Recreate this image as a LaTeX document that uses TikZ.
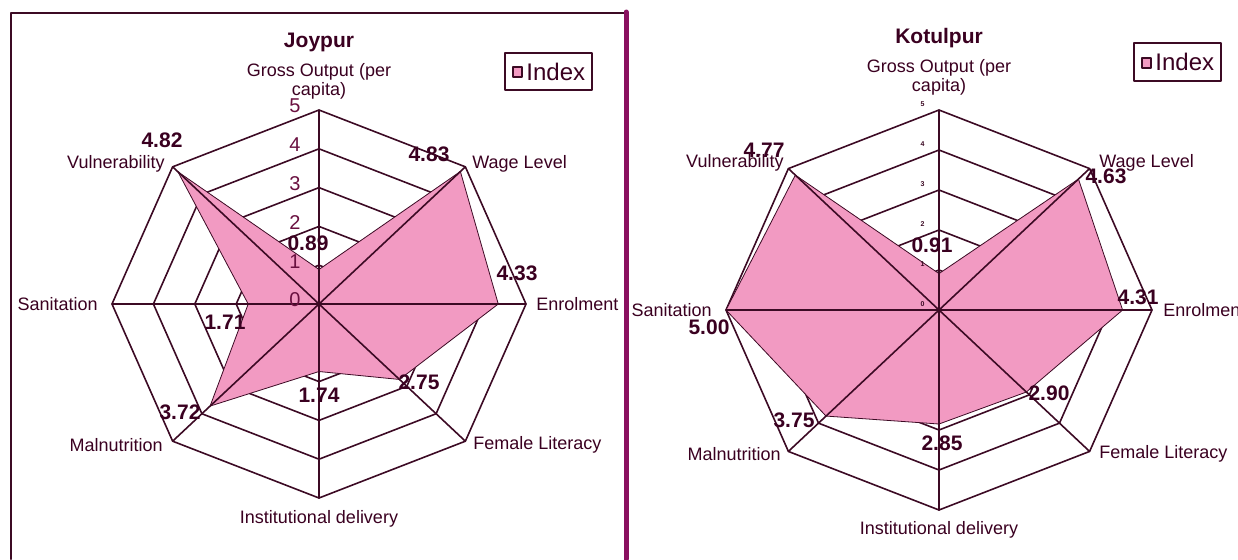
\documentclass[tikz,border=0pt]{standalone}
\usepackage{fontspec}
\setmainfont{Liberation Sans}
\usetikzlibrary{positioning}
\definecolor{gridcol}{HTML}{3C0A24}
\definecolor{pinkfill}{HTML}{F29AC2}
\definecolor{labcol}{HTML}{3A0020}
\definecolor{divcol}{HTML}{8A1060}
\definecolor{tickcol}{HTML}{6A1040}

\begin{document}
\begin{tikzpicture}[x=0.5pt,y=-0.5pt,line cap=round,line join=round,
  gridline/.style={draw=gridcol,line width=0.8pt},
  areafill/.style={fill=pinkfill,draw=gridcol,line width=0.4pt},
  axislab/.style={text=labcol,font=\fontsize{9}{9.5}\selectfont,inner sep=0pt},
  vallab/.style={text=labcol,font=\fontsize{10.5}{11}\selectfont\bfseries,inner sep=0pt},
  ticklab/.style={text=tickcol,font=\fontsize{10}{10}\selectfont,inner sep=0pt,anchor=east,xshift=-9pt,yshift=2pt},
  tinytick/.style={text=gridcol,font=\fontsize{3.5}{4}\selectfont\bfseries,inner sep=0pt,anchor=east,xshift=-7pt,yshift=3pt},
  legbox/.style={draw=gridcol,line width=0.9pt,fill=white},
  legkey/.style={draw=gridcol,line width=0.6pt,fill=pinkfill}]

	\useasboundingbox (0,0) rectangle (1238,559);

	%rajat
	\draw[gridcol,line width=1pt] (11,559) -- (11,13) -- (624,13);
	\draw[divcol,line width=2.5pt] (626,12) -- (626,559);

	% JOYPUR
	\begin{scope}[shift={(319,304)},x=20.7pt,y=19.4pt]
		%renkaat
		\foreach \r in {1,...,5}
		{\draw[gridline] (0:\r) \foreach \a in {45,90,...,315}{ -- (\a:\r)} -- cycle;
		}
		%indeksi
		\filldraw[areafill] (90:0.89) -- (45:4.83) -- (0:4.33) -- (-45:2.75)
			-- (-90:1.74) -- (-135:3.72) -- (180:1.71) -- (135:4.82) -- cycle;
		%akselit
		\foreach \a in {0,45,...,315}
		{\draw[gridline] (0,0) -- (\a:5);
		}
		\foreach \r in {0,...,5}
		{\node[ticklab] (jt\r) at (90:\r) {\r};
		}
	\end{scope}

	\node[vallab] (jtitle) at (319,42) {Joypur};
	\node[axislab,align=center] (jgross) at (319,81) {Gross Output (per\\capita)};
	\node[axislab,anchor=west] (jwage) at (472,164) {Wage Level};
	\node[axislab,anchor=west] (jenrol) at (536,304) {Enrolment};
	\node[axislab,anchor=west] (jlit) at (473,445) {Female Literacy};
	\node[axislab] (jinst) at (319,519) {Institutional delivery};
	\node[axislab,anchor=east] (jmal) at (163,445) {Malnutrition};
	\node[axislab,anchor=east] (jsan) at (98,304) {Sanitation};
	\node[axislab,anchor=east] (jvul) at (165,164) {Vulnerability};

	\node[vallab] (jv1) at (308,243) {0.89};
	\node[vallab] (jv2) at (429,154) {4.83};
	\node[vallab] (jv3) at (517,273) {4.33};
	\node[vallab] (jv4) at (419,382) {2.75};
	\node[vallab] (jv5) at (319,395) {1.74};
	\node[vallab] (jv6) at (180,412) {3.72};
	\node[vallab] (jv7) at (225,322) {1.71};
	\node[vallab] (jv8) at (162,140) {4.82};

	\draw[legbox] (505,53) rectangle (592,90);
	\draw[legkey] (513,67) rectangle (522,77);
	\node[text=labcol,font=\fontsize{12}{12}\selectfont,anchor=west,inner sep=0pt] (jleg) at (526,72) {Index};

	% KOTULPUR
	\begin{scope}[shift={(939,310)},x=21.3pt,y=20pt]
		%renkaat
		\foreach \r in {1,...,5}
		{\draw[gridline] (0:\r) \foreach \a in {45,90,...,315}{ -- (\a:\r)} -- cycle;
		}
		%indeksi
		\filldraw[areafill] (90:0.91) -- (45:4.63) -- (0:4.31) -- (-45:2.90)
			-- (-90:2.85) -- (-135:3.75) -- (180:5.00) -- (135:4.77) -- cycle;
		%akselit
		\foreach \a in {0,45,...,315}
		{\draw[gridline] (0,0) -- (\a:5);
		}
		\foreach \r in {0,...,5}
		{\node[tinytick] (kt\r) at (90:\r) {\r};
		}
	\end{scope}

	\node[vallab] (ktitle) at (939,38) {Kotulpur};
	\node[axislab,align=center] (kgross) at (939,77) {Gross Output (per\\capita)};
	\node[axislab,anchor=west] (kwage) at (1099,163) {Wage Level};
	\node[axislab,anchor=west] (kenrol) at (1163,310) {Enrolment};
	\node[axislab,anchor=west] (klit) at (1099,454) {Female Literacy};
	\node[axislab] (kinst) at (939,530) {Institutional delivery};
	\node[axislab,anchor=east] (kmal) at (781,454) {Malnutrition};
	\node[axislab,anchor=east] (ksan) at (712,310) {Sanitation};
	\node[axislab,anchor=east] (kvul) at (784,163) {Vulnerability};

	\node[vallab] (kv1) at (932,245) {0.91};
	\node[vallab] (kv2) at (1106,176) {4.63};
	\node[vallab] (kv3) at (1138,297) {4.31};
	\node[vallab] (kv4) at (1049,393) {2.90};
	\node[vallab] (kv5) at (942,443) {2.85};
	\node[vallab] (kv6) at (794,420) {3.75};
	\node[vallab] (kv7) at (709,327) {5.00};
	\node[vallab] (kv8) at (764,150) {4.77};

	\draw[legbox] (1134,43) rectangle (1221,81);
	\draw[legkey] (1142,58) rectangle (1151,68);
	\node[text=labcol,font=\fontsize{12}{12}\selectfont,anchor=west,inner sep=0pt] (kleg) at (1155,62) {Index};

\end{tikzpicture}
\end{document}
